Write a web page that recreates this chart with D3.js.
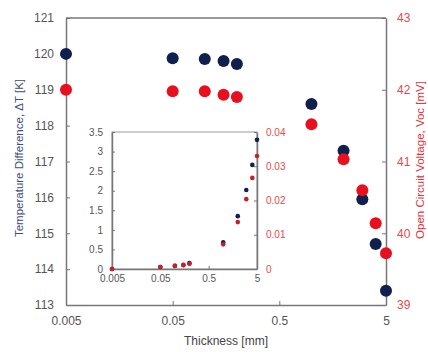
<!DOCTYPE html>
<html>
<head>
<meta charset="utf-8">
<script src="https://cdn.jsdelivr.net/npm/d3@7"></script>
<style>
  body { margin: 0; background: #fff; }
  text { font-family: "Liberation Sans", Arial, sans-serif; }
  .domain { stroke: #777; stroke-width: 1.5; }
  .tick line { stroke: #777; }
</style>
</head>
<body>
<div id="graph1"></div>
<script>
// data
var thickness = [0.005, 0.05, 0.1, 0.15, 0.2, 1, 2, 3, 4, 5];
var deltaT = [120.0, 119.88, 119.86, 119.8, 119.72, 118.6, 117.3, 115.95, 114.7, 113.4];
var voc = [42.0, 41.98, 41.98, 41.93, 41.9, 41.52, 41.03, 40.6, 40.14, 39.72];
// inset series
var insetT = [0, 0.05, 0.08, 0.1, 0.15, 0.68, 1.35, 2.02, 2.66, 3.3];
var insetV = [0, 0.0006, 0.0009, 0.0012, 0.0015, 0.0072, 0.0137, 0.0204, 0.0266, 0.033];

var xTicks = [0.005, 0.05, 0.5, 5];
var leftTicks = [113, 114, 115, 116, 117, 118, 119, 120, 121];
var rightTicks = [39, 40, 41, 42, 43];
var insetLeftTicks = [0, 0.5, 1, 1.5, 2, 2.5, 3, 3.5];
var insetRightTicks = [0, 0.01, 0.02, 0.03, 0.04];

var blue = "#0f1f4e", red = "#e8101e";
var plain = function(d) { return String(d); };

var svg = d3.select("#graph1")
  .append("svg")
    .attr("width", 428)
    .attr("height", 352);

// main scales
var x = d3.scaleLog().domain([0.005, 5]).range([66, 386]);
var yL = d3.scaleLinear().domain([113, 121]).range([305, 18]);
var yR = d3.scaleLinear().domain([39, 43]).range([305, 18]);

// top border
svg.append("line")
  .attr("x1", 66).attr("x2", 386).attr("y1", 18).attr("y2", 18)
  .attr("stroke", "#777").attr("stroke-width", 1.5);

var gx = svg.append("g")
  .attr("transform", "translate(0,305)")
  .call(d3.axisBottom(x).tickValues(xTicks).tickFormat(plain)
    .tickSize(-4).tickSizeOuter(0).tickPadding(11));
gx.selectAll("text").attr("font-size", 12).attr("fill", "#555");

var gl = svg.append("g")
  .attr("transform", "translate(66,0)")
  .call(d3.axisLeft(yL).tickValues(leftTicks).tickFormat(plain)
    .tickSize(-4).tickSizeOuter(0).tickPadding(12));
gl.selectAll("text").attr("font-size", 12).attr("fill", "#555");

var gr = svg.append("g")
  .attr("transform", "translate(386,0)")
  .call(d3.axisRight(yR).tickValues(rightTicks).tickFormat(plain)
    .tickSize(-4).tickSizeOuter(0).tickPadding(11));
gr.selectAll("text").attr("font-size", 12).attr("fill", "#e54a4a");

// axis titles
svg.append("text")
  .attr("transform", "translate(19,158) rotate(-90)")
  .attr("text-anchor", "middle")
  .attr("dy", "0.35em")
  .attr("font-size", 11.5)
  .attr("fill", "#3c4d7a")
  .text("Temperature Difference, ΔT [K]");

svg.append("text")
  .attr("transform", "translate(420,160) rotate(-90)")
  .attr("text-anchor", "middle")
  .attr("dy", "0.35em")
  .attr("font-size", 11.5)
  .attr("fill", "#e0353d")
  .text("Open Circuit Voltage, Voc [mV]");

svg.append("text")
  .attr("x", 226).attr("y", 341)
  .attr("text-anchor", "middle")
  .attr("dy", "0.35em")
  .attr("font-size", 12)
  .attr("fill", "#444")
  .text("Thickness [mm]");

// main dots
svg.append("g").selectAll("circle")
  .data(thickness)
  .enter().append("circle")
    .attr("cx", function(d) { return x(d); })
    .attr("cy", function(d, i) { return yL(deltaT[i]); })
    .attr("r", 6)
    .attr("fill", blue);

svg.append("g").selectAll("circle")
  .data(thickness)
  .enter().append("circle")
    .attr("cx", function(d) { return x(d); })
    .attr("cy", function(d, i) { return yR(voc[i]); })
    .attr("r", 6)
    .attr("fill", red);

// inset
var ix = d3.scaleLog().domain([0.005, 5]).range([112, 257]);
var iyL = d3.scaleLinear().domain([0, 3.5]).range([269, 132]);
var iyR = d3.scaleLinear().domain([0, 0.04]).range([269, 132]);

svg.append("rect")
  .attr("x", 112).attr("y", 132).attr("width", 145).attr("height", 137)
  .attr("fill", "#fff").attr("stroke", "#999").attr("stroke-width", 1);

var igx = svg.append("g")
  .attr("transform", "translate(0,269)")
  .call(d3.axisBottom(ix).tickValues(xTicks).tickFormat(plain)
    .tickSize(-3).tickSizeOuter(0).tickPadding(6));
igx.selectAll("text").attr("font-size", 10).attr("fill", "#555");

var igl = svg.append("g")
  .attr("transform", "translate(112,0)")
  .call(d3.axisLeft(iyL).tickValues(insetLeftTicks).tickFormat(plain)
    .tickSize(-3).tickSizeOuter(0).tickPadding(9));
igl.selectAll("text").attr("font-size", 10).attr("fill", "#555");

var igr = svg.append("g")
  .attr("transform", "translate(257,0)")
  .call(d3.axisRight(iyR).tickValues(insetRightTicks).tickFormat(plain)
    .tickSize(-3).tickSizeOuter(0).tickPadding(9));
igr.selectAll("text").attr("font-size", 10).attr("fill", "#e54a4a");

svg.selectAll(".domain").attr("stroke", "#888");

svg.append("g").selectAll("circle")
  .data(thickness)
  .enter().append("circle")
    .attr("cx", function(d) { return ix(d); })
    .attr("cy", function(d, i) { return iyL(insetT[i]); })
    .attr("r", 2.3)
    .attr("fill", blue);

svg.append("g").selectAll("circle")
  .data(thickness)
  .enter().append("circle")
    .attr("cx", function(d) { return ix(d); })
    .attr("cy", function(d, i) { return iyR(insetV[i]); })
    .attr("r", 2.3)
    .attr("fill", "#c8202a");
</script>
</body>
</html>
